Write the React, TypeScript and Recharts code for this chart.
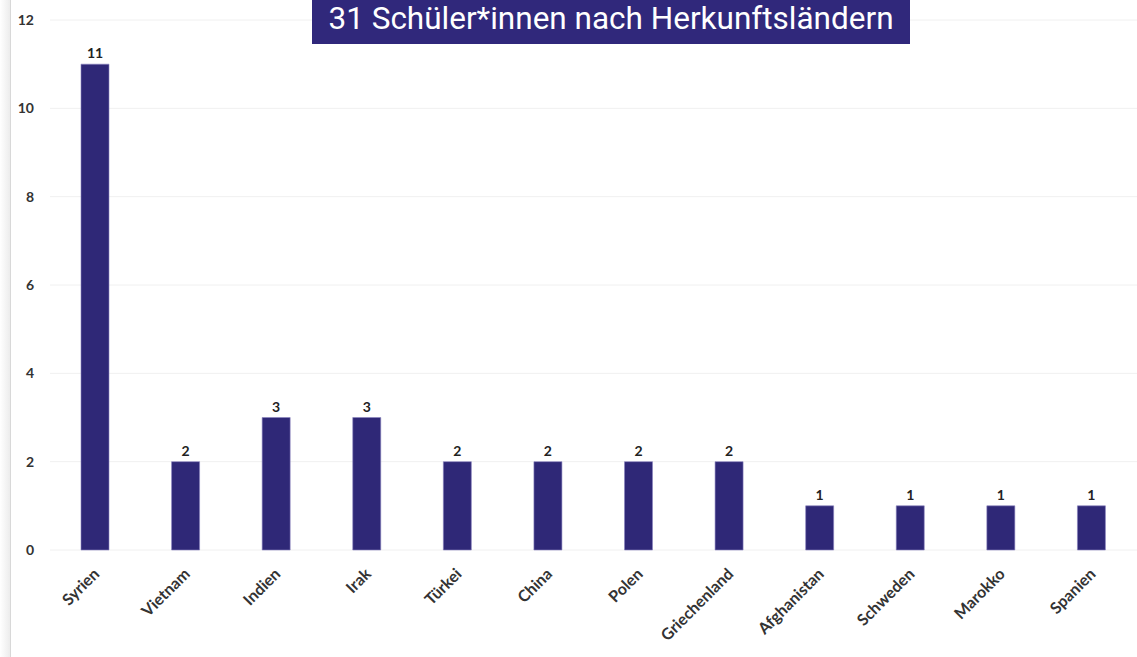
import { Bar, BarChart, CartesianGrid, LabelList, XAxis, YAxis } from "recharts";

const countries = [
  "Syrien",
  "Vietnam",
  "Indien",
  "Irak",
  "Türkei",
  "China",
  "Polen",
  "Griechenland",
  "Afghanistan",
  "Schweden",
  "Marokko",
  "Spanien",
];
const students = [11, 2, 3, 3, 2, 2, 2, 2, 1, 1, 1, 1];
const yTicks = [0, 2, 4, 6, 8, 10, 12];
const title = "31 Schüler*innen nach Herkunftsländern";

const data = countries.map((country, i) => ({ country, value: students[i] }));

const BAR = "#2f2877";
const FONT = "Lato, sans-serif";

// angled category labels, anchored at their right end under the bar
function CountryTick({ x, y, payload }: any) {
  return (
    <g transform={`translate(${x + 5},${y + 17})`}>
      <text
        textAnchor="end"
        transform="rotate(-45)"
        fontFamily={FONT}
        fontSize={16}
        fontWeight={700}
        fill="#333"
      >
        {payload.value}
      </text>
    </g>
  );
}

export default function App() {
  return (
    <div
      style={{
        position: "absolute",
        left: 0,
        top: 0,
        width: 1137,
        height: 657,
        background: "#fff",
        overflow: "hidden",
      }}
    >
      <div
        style={{
          position: "absolute",
          left: 0,
          top: 0,
          width: 10,
          height: 657,
          borderRight: "1px solid #d8d8d8",
          background: "linear-gradient(to right, #fff, #ececec)",
        }}
      />
      <BarChart
        width={1137}
        height={657}
        data={data}
        margin={{ top: 20, right: 0, bottom: 0, left: 0 }}
      >
        <CartesianGrid vertical={false} stroke="#f0f0f0" />
        <YAxis
          domain={[0, 12]}
          ticks={yTicks}
          width={50}
          axisLine={false}
          tickLine={false}
          tickSize={0}
          tickMargin={16}
          tick={{ fontFamily: FONT, fontSize: 14, fontWeight: 700, fill: "#333" }}
        />
        <XAxis
          dataKey="country"
          height={107}
          axisLine={false}
          tickLine={false}
          interval={0}
          tick={<CountryTick />}
        />
        <Bar
          dataKey="value"
          fill={BAR}
          stroke="#8a83c0"
          strokeWidth={0.6}
          barSize={28}
          isAnimationActive={false}
        >
          <LabelList
            dataKey="value"
            position="top"
            offset={6}
            style={{ fontFamily: FONT, fontSize: 14, fontWeight: 700, fill: "#222" }}
          />
        </Bar>
      </BarChart>
      <div
        style={{
          position: "absolute",
          left: 312,
          top: 0,
          width: 598,
          height: 44,
          background: "#30287b",
          color: "#fff",
          fontFamily: "Roboto, sans-serif",
          fontSize: 31.5,
          lineHeight: "38px",
          textAlign: "center",
        }}
      >
        {title}
      </div>
    </div>
  );
}
